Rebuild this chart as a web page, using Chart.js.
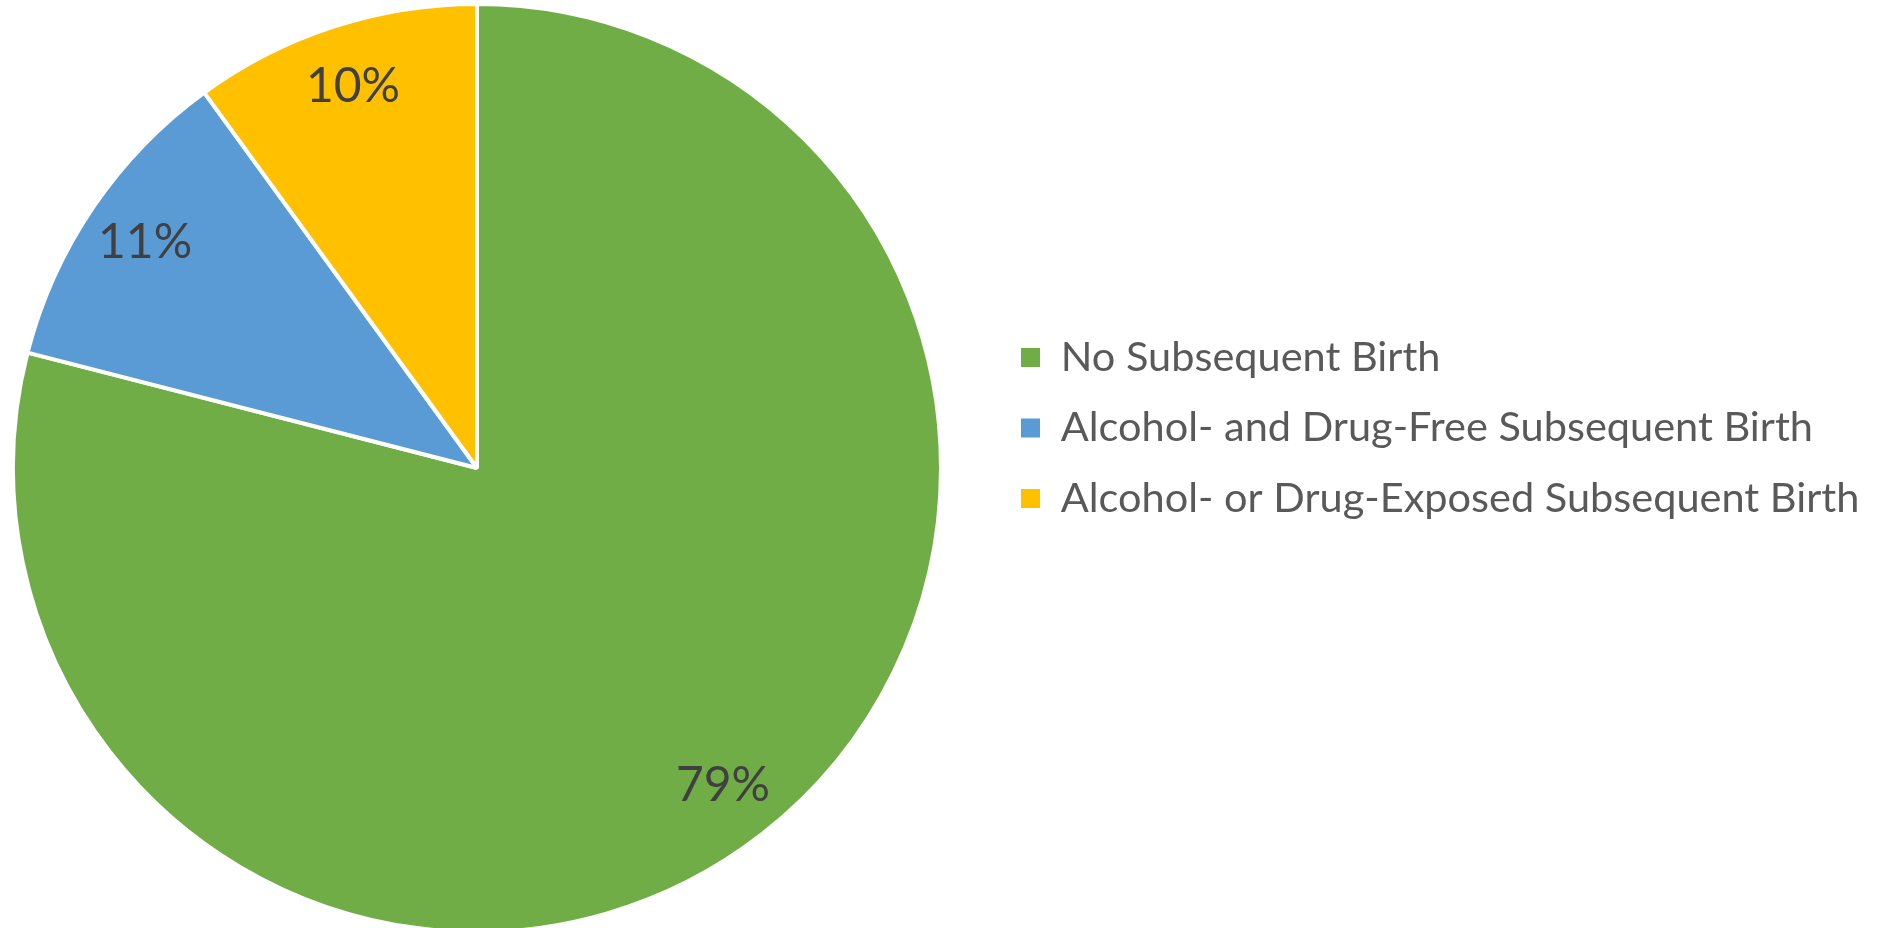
<!DOCTYPE html>
<html>
<head>
<meta charset="utf-8">
<title>Subsequent Births</title>
<script src="https://cdn.jsdelivr.net/npm/chart.js@4.4.1/dist/chart.umd.min.js"></script>
<style>
html, body { margin: 0; padding: 0; background: #fff; overflow: hidden; }
/* canvas hangs a little past the left edge so the pie sits flush */
#pie { display: block; position: absolute; left: -38px; top: 0; }
</style>
</head>
<body>
<canvas id="pie" width="1926" height="934"></canvas>
<script>
var labels = ['No Subsequent Birth', 'Alcohol- and Drug-Free Subsequent Birth', 'Alcohol- or Drug-Exposed Subsequent Birth'];
var percents = [79, 11, 10];
var colors = ['#70AD47', '#5B9BD5', '#FFC000'];

var FONT = 'Lato';
var legendSize = 41.5;
var legendGap = 29;
var pieRight = 1030;

// width of the longest legend entry, so the legend starts right after the pie area
var ctx = document.getElementById('pie').getContext('2d');
ctx.font = legendSize + 'px ' + FONT;
var longest = 0;
labels.forEach(function (t) { longest = Math.max(longest, ctx.measureText(t).width); });
var legendWidth = legendGap + 19 + legendSize / 2 + longest + 10;
var padRight = Math.max(0, 1926 - pieRight - legendWidth);

// percent text inside each slice, close to the rim
var sliceLabels = {
	id: 'sliceLabels',
	afterDatasetsDraw: function (chart) {
		var c = chart.ctx;
		var meta = chart.getDatasetMeta(0);
		c.save();
		c.font = '48px ' + FONT;
		c.fillStyle = '#404040';
		c.textAlign = 'center';
		c.textBaseline = 'middle';
		meta.data.forEach(function (arc, i) {
			var p = arc.getProps(['x', 'y', 'startAngle', 'endAngle', 'outerRadius'], true);
			var mid = (p.startAngle + p.endAngle) / 2;
			var r = p.outerRadius * 0.865;
			c.fillText(percents[i] + '%', p.x + Math.cos(mid) * r, p.y + Math.sin(mid) * r);
		});
		c.restore();
	}
};

// lift the legend block a bit above the pie centre
var legendShift = {
	id: 'legendShift',
	afterLayout: function (chart) {
		var lg = chart.legend;
		lg.top -= 40;
		lg.bottom -= 40;
	}
};

var pieLegendItems = Chart.controllers.pie.overrides.plugins.legend.labels.generateLabels;

var chart = new Chart(ctx, {
	type: 'pie',
	data: {
		labels: labels,
		datasets: [{
			data: percents,
			backgroundColor: colors,
			borderColor: '#ffffff',
			borderWidth: 4
		}]
	},
	options: {
		responsive: false,
		devicePixelRatio: 1,
		animation: false,
		layout: {
			padding: { left: 0, top: 2, right: padRight, bottom: 0 }
		},
		plugins: {
			tooltip: { enabled: false },
			legend: {
				position: 'right',
				align: 'center',
				labels: {
					boxWidth: 19,
					boxHeight: 19,
					padding: legendGap,
					color: '#595959',
					font: { family: FONT, size: legendSize },
					// plain filled squares, no white slice border round them
					generateLabels: function (chart) {
						return pieLegendItems(chart).map(function (item) {
							item.lineWidth = 0;
							return item;
						});
					}
				}
			}
		}
	},
	plugins: [sliceLabels, legendShift]
});
</script>
</body>
</html>
